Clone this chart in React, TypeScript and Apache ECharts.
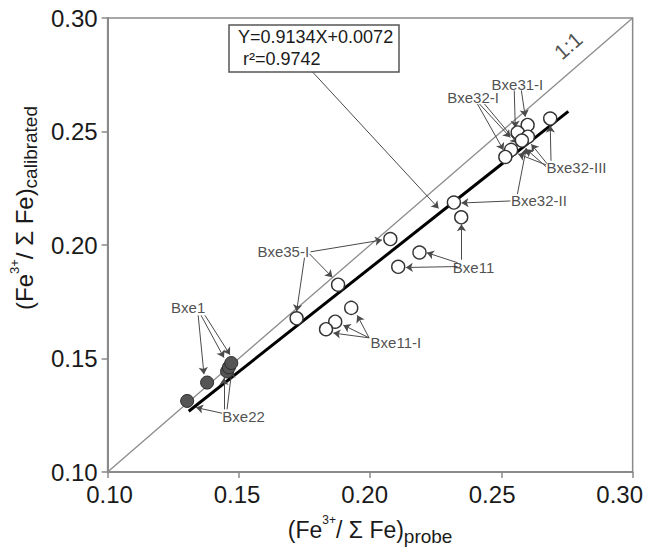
import React, { useEffect, useRef } from 'react';
import * as echarts from 'echarts';

// ---- data ----
const axisMin = 0.1;
const axisMax = 0.3;
const tickStep = 0.05;

const openX = [0.2686, 0.2600, 0.2562, 0.2601, 0.2578, 0.2537, 0.2515, 0.2319, 0.2347, 0.2077, 0.2188, 0.2107, 0.1878, 0.1928, 0.1867, 0.1832, 0.1720];
const openY = [0.2557, 0.2529, 0.2496, 0.2477, 0.2460, 0.2419, 0.2388, 0.2187, 0.2122, 0.2026, 0.1967, 0.1904, 0.1825, 0.1723, 0.1662, 0.1629, 0.1677];

const filledX = [0.1303, 0.1379, 0.1455, 0.1462, 0.1471];
const filledY = [0.1313, 0.1394, 0.1443, 0.1461, 0.1480];

const fitSlope = 0.9134;
const fitIntercept = 0.0072;
const fitXRange = [0.1309, 0.2755];

const equationText = 'Y=0.9134X+0.0072';
const r2Text = 'r\u00B2=0.9742';

const labelNames = ['Bxe31-I', 'Bxe32-I', 'Bxe32-III', 'Bxe32-II', 'Bxe11', 'Bxe35-I', 'Bxe11-I', 'Bxe1', 'Bxe22'];
const labelX = [0.2561, 0.2392, 0.2786, 0.2643, 0.2394, 0.1669, 0.2098, 0.1307, 0.1518];
const labelY = [0.2707, 0.2651, 0.2341, 0.2194, 0.1903, 0.1971, 0.1569, 0.1724, 0.1246];

const oneToOneLabel = '1:1';
const oneToOnePos = [0.2754, 0.2879];

// arrows: [x1, y1, x2, y2]
const arrowSegments: number[][] = [
  [0.1777, 0.2767, 0.2261, 0.2161],
  [0.2549, 0.2681, 0.2553, 0.2517],
  [0.2576, 0.2681, 0.2591, 0.2565],
  [0.2409, 0.2621, 0.2508, 0.2418],
  [0.2417, 0.2621, 0.2534, 0.2474],
  [0.2436, 0.2621, 0.2561, 0.2448],
  [0.2670, 0.2353, 0.2564, 0.2401],
  [0.2670, 0.2345, 0.2595, 0.2422],
  [0.2674, 0.2358, 0.2614, 0.2444],
  [0.2689, 0.2371, 0.2686, 0.2526],
  [0.2534, 0.2194, 0.2348, 0.2185],
  [0.2561, 0.2224, 0.2595, 0.2427],
  [0.2333, 0.1922, 0.2216, 0.1966],
  [0.2333, 0.1905, 0.2136, 0.1901],
  [0.2348, 0.1935, 0.2348, 0.2091],
  [0.1773, 0.1970, 0.2045, 0.2022],
  [0.1769, 0.1961, 0.1856, 0.1858],
  [0.1750, 0.1944, 0.1720, 0.1707],
  [0.1996, 0.1591, 0.1951, 0.1690],
  [0.1996, 0.1591, 0.1898, 0.1647],
  [0.1996, 0.1591, 0.1860, 0.1612],
  [0.1345, 0.1690, 0.1367, 0.1431],
  [0.1356, 0.1690, 0.1443, 0.1504],
  [0.1371, 0.1690, 0.1466, 0.1517],
  [0.1436, 0.1259, 0.1337, 0.1284],
  [0.1443, 0.1276, 0.1443, 0.1414],
  [0.1455, 0.1276, 0.1473, 0.1448],
];

const FONT = '"Liberation Sans", Arial, Helvetica, sans-serif';
const TXT = '#1a1a1a';

export default function App() {
  const ref = useRef<HTMLDivElement>(null);
  useEffect(() => {
    document.body.style.margin = '0';
    if (!ref.current) return;
    const chart = echarts.init(ref.current, null, { renderer: 'svg' });

    // in the reference the x tick labels drift slightly left of their ticks
    const xRich: Record<string, any> = {};
    for (let i = 0; i <= 4; i++) {
      const shift = 2 - 3.75 * i; // px, + = right
      xRich['t' + i] = {
        fontSize: 24,
        fontFamily: FONT,
        color: TXT,
        padding: shift < 0 ? [0, -2 * shift, 0, 0] : [0, 0, 0, 2 * shift],
      };
    }

    const axisCommon = {
      type: 'value',
      min: axisMin,
      max: axisMax,
      interval: tickStep,
      splitLine: { show: false },
      axisLine: { show: true, lineStyle: { color: '#8a8a8a', width: 2 } },
      axisTick: { show: true, inside: false, length: 6, lineStyle: { color: '#8a8a8a', width: 1.5 } },
      nameLocation: 'middle',
    };
    const richNameX = {
      sup: { fontSize: 12, fontFamily: FONT, color: TXT, verticalAlign: 'top', lineHeight: 14 },
      sub: { fontSize: 19, fontFamily: FONT, color: TXT, verticalAlign: 'bottom', lineHeight: 22 },
      m: { fontSize: 23, fontFamily: FONT, color: TXT, lineHeight: 32 },
    };
    const richNameY = {
      sup: { fontSize: 13, fontFamily: FONT, color: TXT, verticalAlign: 'top', lineHeight: 14 },
      sub: { fontSize: 19, fontFamily: FONT, color: TXT, verticalAlign: 'bottom', lineHeight: 22 },
      m: { fontSize: 24, fontFamily: FONT, color: TXT, lineHeight: 32 },
    };
    chart.setOption({
      animation: false,
      backgroundColor: '#ffffff',
      grid: { left: 105, right: 13, top: 18, bottom: 69, show: true, borderColor: '#8a8a8a', borderWidth: 1.5 },
      xAxis: {
        ...axisCommon,
        axisLabel: {
          margin: 10,
          formatter: (v: number) => `{t${Math.round((v - axisMin) / tickStep)}|${v.toFixed(2)}}`,
          rich: xRich,
        },
        name: '{m|(Fe}{sup|3+}{m|/ \u03A3 Fe)}{sub|probe}',
        nameGap: 42,
        nameTextStyle: { rich: richNameX },
      },
      yAxis: {
        ...axisCommon,
        axisLabel: {
          color: TXT,
          fontSize: 24,
          fontFamily: FONT,
          margin: 10,
          formatter: (v: number) => v.toFixed(2),
        },
        name: '{m|(Fe}{sup|3+}{m|/ \u03A3 Fe)}{sub|calibrated}',
        nameGap: 66,
        nameTextStyle: { rich: richNameY, padding: [0, 0, 0, 74] },
      },
      graphic: [
        {
          type: 'rect',
          shape: { x: 229, y: 25, width: 170, height: 47 },
          style: { fill: '#fff', stroke: '#555', lineWidth: 1.5 },
          z: 100,
        },
        {
          type: 'text',
          x: 238,
          y: 28,
          style: { text: equationText, fontSize: 18, fontFamily: FONT, fill: TXT },
          z: 101,
        },
        {
          type: 'text',
          x: 243,
          y: 50,
          style: { text: r2Text, fontSize: 18, fontFamily: FONT, fill: TXT },
          z: 101,
        },
      ],
      series: [
        {
          type: 'line',
          name: '1:1',
          data: [[axisMin, axisMin], [axisMax, axisMax]],
          symbol: 'none',
          lineStyle: { color: '#8c8c8c', width: 1.3 },
          z: 1,
          silent: true,
        },
        {
          type: 'line',
          name: 'fit',
          data: fitXRange.map((x) => [x, fitSlope * x + fitIntercept]),
          symbol: 'none',
          lineStyle: { color: '#000', width: 3 },
          z: 2,
          silent: true,
        },
        {
          type: 'scatter',
          name: 'arrows',
          data: [],
          z: 3,
          markLine: {
            silent: true,
            symbol: ['none', 'arrow'],
            symbolSize: 7,
            label: { show: false },
            lineStyle: { color: '#4a4a4a', width: 1, type: 'solid' },
            data: arrowSegments.map((a) => [{ coord: [a[0], a[1]] }, { coord: [a[2], a[3]] }]),
          },
        },
        {
          type: 'scatter',
          name: 'open',
          data: openX.map((x, i) => [x, openY[i]]),
          symbol: 'circle',
          symbolSize: 13,
          itemStyle: { color: '#fff', borderColor: '#333', borderWidth: 1.4, opacity: 1 },
          z: 5,
        },
        {
          type: 'scatter',
          name: 'filled',
          data: filledX.map((x, i) => [x, filledY[i]]),
          symbol: 'circle',
          symbolSize: 13,
          itemStyle: { color: '#555', borderColor: '#2a2a2a', borderWidth: 1, opacity: 1 },
          z: 5,
        },
        {
          type: 'scatter',
          name: 'labels',
          data: labelNames.map((n, i) => ({ name: n, value: [labelX[i], labelY[i]] })),
          symbolSize: 1,
          itemStyle: { color: 'rgba(0,0,0,0)' },
          label: {
            show: true,
            position: 'inside',
            formatter: (p: any) => p.name,
            fontSize: 15,
            fontFamily: FONT,
            color: '#222',
          },
          z: 6,
          silent: true,
        },
        {
          type: 'scatter',
          name: 'oneToOneLabel',
          data: [{ name: oneToOneLabel, value: oneToOnePos }],
          symbolSize: 1,
          itemStyle: { color: 'rgba(0,0,0,0)' },
          label: {
            show: true,
            position: 'inside',
            formatter: (p: any) => p.name,
            fontSize: 21,
            fontFamily: FONT,
            color: '#222',
            rotate: 41,
          },
          z: 6,
          silent: true,
        },
      ],
    });
    return () => chart.dispose();
  }, []);
  return <div ref={ref} style={{ width: 646, height: 551 }} />;
}
